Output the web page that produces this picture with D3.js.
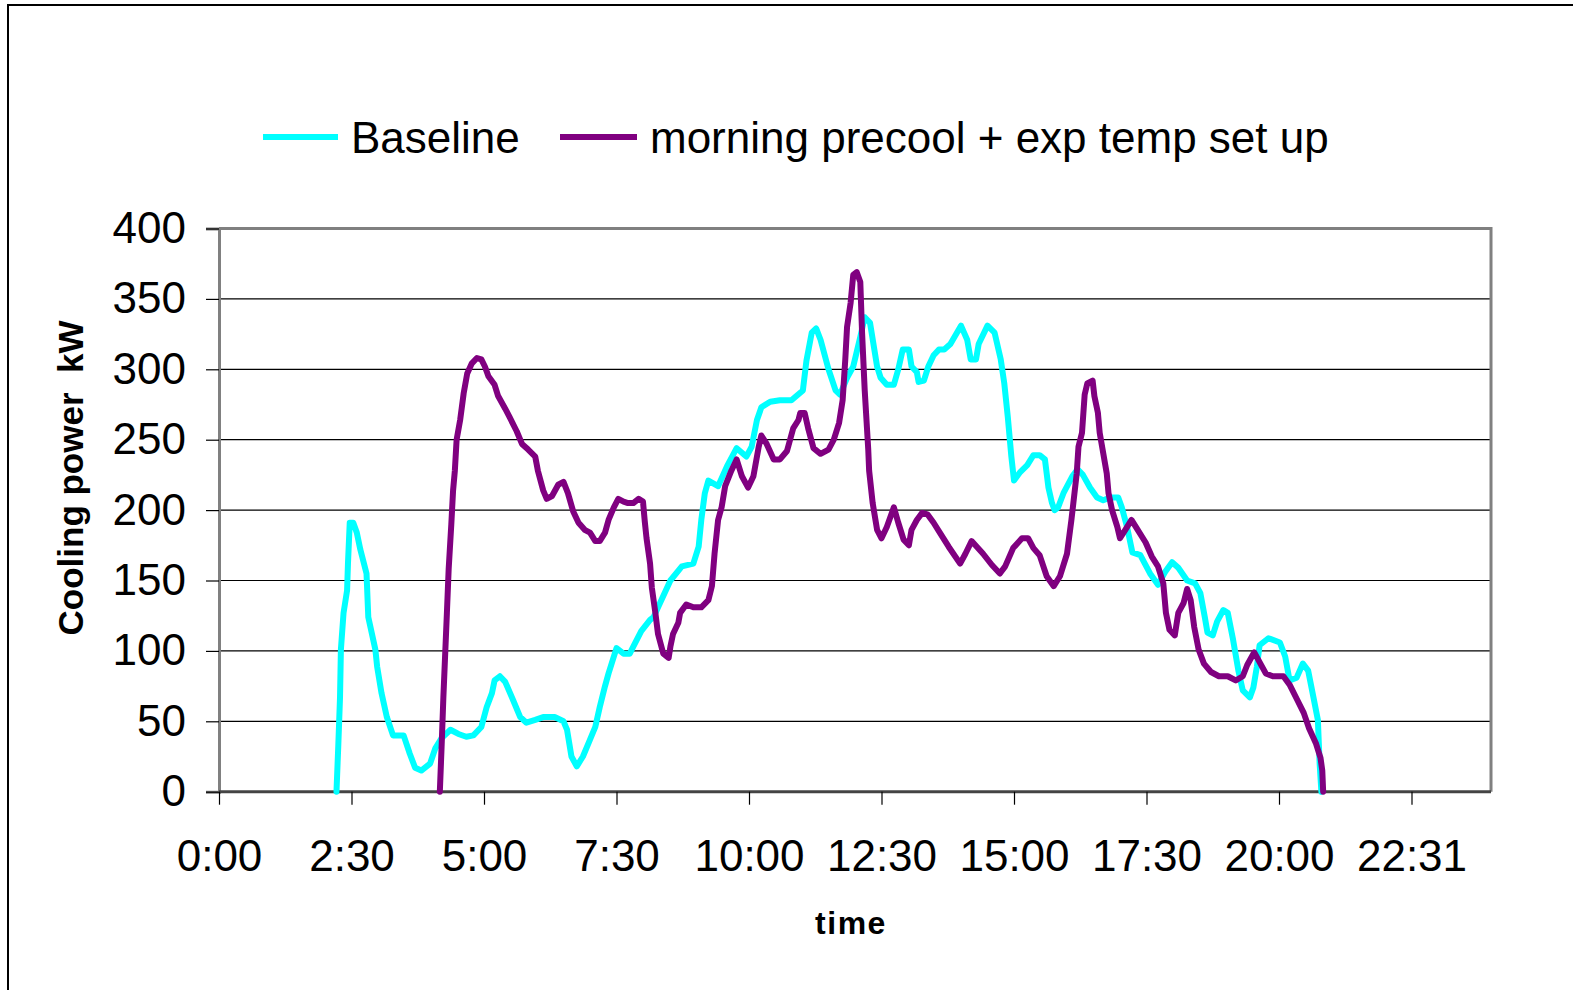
<!DOCTYPE html>
<html>
<head>
<meta charset="utf-8">
<script src="https://cdn.jsdelivr.net/npm/d3@7/dist/d3.min.js"></script>
<style>
  html, body { margin: 0; padding: 0; background: #fff; }
  svg { display: block; font-family: "Liberation Sans", Arial, sans-serif; }
</style>
</head>
<body>
<svg id="chart" width="1573" height="990"></svg>
<script>
// Time of day in minutes after midnight, cooling power in kW
const baselineTime = [133,135,137,138,141,145,146,148,152,156,160,167,169,177,179,184,190,197,209,216,222,229,239,245,252,262,271,280,288,297,303,309,312,318,324,333,341,348,358,367,380,390,394,399,405,412,420,426,431,437,441,450,458,465,469,478,488,492,511,524,537,543,546,550,554,565,575,586,597,603,609,614,624,635,648,661,665,671,676,681,690,698,703,711,718,726,731,737,745,749,756,764,769,774,781,784,790,792,798,803,809,815,821,828,840,847,851,857,860,870,878,885,889,893,897,900,907,915,922,929,935,939,943,946,950,956,966,972,978,986,994,1001,1009,1018,1022,1028,1034,1043,1054,1063,1071,1079,1086,1096,1105,1111,1116,1119,1125,1130,1137,1142,1148,1154,1159,1167,1171,1175,1178,1188,1201,1207,1212,1220,1227,1233,1239,1244,1246,1248];
const baselineKW = [0,32,67,101,127,143,162,191,191,184,172,155,124,101,89,70,53,40,40,27,17,15,20,31,38,44,41,39,40,46,60,70,79,82,78,65,53,49,51,53,53,50,44,25,18,25,37,46,60,75,84,102,98,98,103,114,122,124,150,160,162,174,193,212,221,217,231,244,238,245,264,273,277,278,278,285,306,326,329,321,300,285,282,294,302,323,337,333,302,294,289,289,300,314,314,302,298,291,292,302,310,314,314,318,331,321,307,307,318,331,326,307,290,266,238,221,227,232,239,239,236,216,205,200,202,212,224,229,225,216,209,207,209,209,202,188,170,168,155,147,156,163,159,150,148,141,124,113,111,121,129,127,108,86,72,67,74,89,104,109,106,96,79,81,91,86,67,51,20,0];

const precoolTime = [250,252,254,258,260,263,265,267,269,273,277,281,286,292,297,301,305,312,316,324,329,337,343,350,358,361,367,371,377,384,390,395,401,407,414,420,426,431,437,441,447,452,458,463,469,475,480,482,484,488,490,494,497,503,509,511,514,520,522,529,537,546,554,558,561,565,569,573,580,586,592,599,605,611,614,620,628,635,643,650,656,658,663,667,673,681,690,696,702,706,709,711,715,718,722,726,728,731,735,736,740,745,750,756,764,769,775,781,784,790,796,802,809,816,826,839,845,852,865,875,884,890,899,909,916,922,929,937,945,952,960,965,971,973,977,980,983,989,991,995,997,1005,1007,1011,1017,1020,1026,1033,1039,1049,1056,1063,1069,1072,1076,1082,1086,1092,1096,1100,1104,1109,1115,1123,1132,1142,1151,1159,1164,1172,1178,1185,1193,1205,1212,1220,1228,1234,1242,1247,1249,1250];
const precoolKW = [0,32,67,127,158,190,214,228,250,264,283,297,304,308,307,302,295,289,281,272,266,256,247,243,238,228,214,208,210,218,220,212,199,191,186,184,178,178,184,193,202,208,206,205,205,208,206,192,180,162,145,127,112,98,95,103,112,120,127,133,131,131,136,146,169,193,202,217,228,236,224,216,224,245,253,247,236,236,242,258,264,269,269,258,244,240,243,250,262,278,307,330,347,367,369,362,326,285,243,228,205,186,180,188,202,191,179,175,186,193,198,197,191,184,174,162,169,178,169,161,155,160,173,180,180,173,168,153,146,153,169,193,226,245,255,282,290,292,281,269,255,226,212,200,188,180,186,193,187,177,167,160,148,127,115,111,127,134,144,136,117,101,91,85,82,82,79,82,90,99,92,84,82,82,76,66,56,45,34,24,15,0];

const seriesNames = ["Baseline", "morning precool + exp temp set up"];
const seriesColors = ["#00ffff", "#800080"];
const yTicks = [0, 50, 100, 150, 200, 250, 300, 350, 400];
const xTickMinutes = [0, 150, 300, 450, 600, 750, 900, 1050, 1200, 1350];
const xTickLabels = ["0:00", "2:30", "5:00", "7:30", "10:00", "12:30", "15:00", "17:30", "20:00", "22:31"];

const svg = d3.select("#chart");

// outer chart frame
svg.append("rect")
  .attr("x", 8).attr("y", 5).attr("width", 1620).attr("height", 1040)
  .attr("fill", "none").attr("stroke", "#000").attr("stroke-width", 2);

const plot = { left: 219, right: 1491, top: 228.5, bottom: 791.7 };

const x = d3.scaleLinear().domain([0, 1440]).range([plot.left, plot.right]);
const y = d3.scaleLinear().domain([0, 400]).range([plot.bottom, plot.top]);

// horizontal gridlines
svg.append("g")
  .selectAll("line")
  .data(yTicks.filter(v => v > 0 && v < 400))
  .join("line")
  .attr("x1", plot.left).attr("x2", plot.right)
  .attr("y1", d => y(d)).attr("y2", d => y(d))
  .attr("stroke", "#000").attr("stroke-width", 1.2);

// plot border (top and right)
svg.append("path")
  .attr("d", `M${plot.left},${y(400)}H${plot.right}V${plot.bottom}`)
  .attr("fill", "none").attr("stroke", "#808080").attr("stroke-width", 3);

// y axis
const yAxis = d3.axisLeft(y).tickValues(yTicks).tickSize(13).tickPadding(20).tickFormat(d3.format("d"));
const gy = svg.append("g").attr("transform", `translate(${plot.left},0)`).call(yAxis);
gy.select(".domain").attr("stroke", "#808080").attr("stroke-width", 3);
gy.selectAll(".tick line").attr("stroke", "#000").attr("stroke-width", 1.2);
gy.selectAll(".tick text")
  .attr("font-size", 44).attr("fill", "#000")
  .attr("font-family", "'Liberation Sans', Arial, sans-serif");

// x axis
const xAxis = d3.axisBottom(x).tickValues(xTickMinutes).tickSize(13).tickPadding(35)
  .tickFormat((d, i) => xTickLabels[i]);
const gx = svg.append("g").attr("transform", `translate(0,${plot.bottom})`).call(xAxis);
gx.select(".domain").attr("d", `M${plot.left},0H${plot.right}`).attr("stroke", "#444").attr("stroke-width", 3);
gx.selectAll(".tick line").attr("stroke", "#000").attr("stroke-width", 1.2);
gx.selectAll(".tick text")
  .attr("font-size", 44).attr("fill", "#000")
  .attr("font-family", "'Liberation Sans', Arial, sans-serif");

// series lines
const line = d3.line().x(d => x(d[0])).y(d => y(d[1]));
const series = [
  d3.zip(baselineTime, baselineKW),
  d3.zip(precoolTime, precoolKW)
];
series.forEach((pts, i) => {
  svg.append("path")
    .datum(pts)
    .attr("d", line)
    .attr("fill", "none")
    .attr("stroke", seriesColors[i])
    .attr("stroke-width", 6)
    .attr("stroke-linejoin", "round")
    .attr("stroke-linecap", "round");
});

// axis titles
svg.append("text")
  .attr("x", 851).attr("y", 934)
  .attr("text-anchor", "middle")
  .attr("font-size", 32).attr("font-weight", "bold")
  .attr("letter-spacing", 1.5)
  .text("time");

svg.append("text")
  .attr("transform", "translate(83,478) rotate(-90)")
  .attr("text-anchor", "middle")
  .attr("font-size", 35).attr("font-weight", "bold")
  .attr("xml:space", "preserve")
  .style("white-space", "pre")
  .text("Cooling power  kW");

// legend
const legendItems = [
  { x1: 263, x2: 338, tx: 351 },
  { x1: 560, x2: 637, tx: 650 }
];
const lg = svg.append("g");
legendItems.forEach((it, i) => {
  lg.append("line")
    .attr("x1", it.x1).attr("x2", it.x2).attr("y1", 137).attr("y2", 137)
    .attr("stroke", seriesColors[i]).attr("stroke-width", 6);
  lg.append("text")
    .attr("x", it.tx).attr("y", 153)
    .attr("font-size", 44)
    .text(seriesNames[i]);
});
</script>
</body>
</html>
